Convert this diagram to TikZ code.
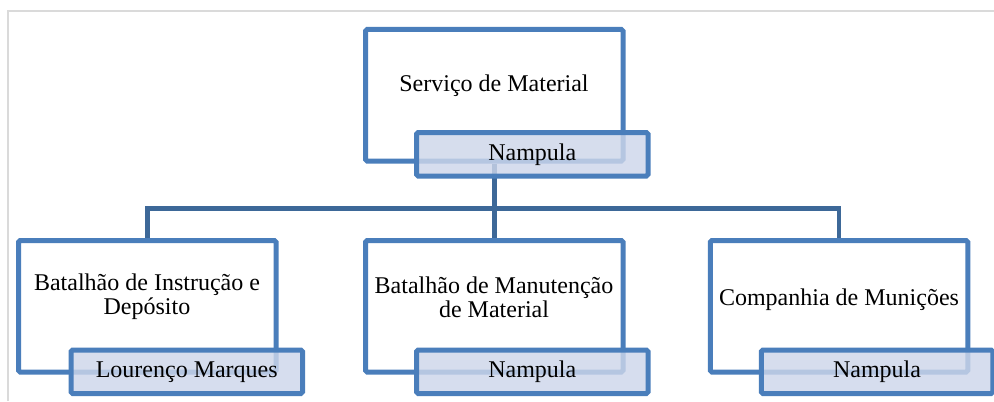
\documentclass[tikz,border=0pt]{standalone}
\usepackage{fontspec}
\setmainfont{Liberation Serif}
\definecolor{boxblue}{RGB}{74,126,187}
\definecolor{connblue}{RGB}{61,104,152}
\definecolor{labfill}{RGB}{205,214,234}
\definecolor{framegray}{RGB}{218,218,218}
\pgfdeclarelayer{background}
\pgfsetlayers{background,main}
\begin{document}
\begin{tikzpicture}[x=0.5pt,y=-0.5pt,
  mainbox/.style={draw=boxblue,line width=2.5pt,fill=white,rounded corners=0.8pt,
    minimum width=128.75pt,minimum height=65.75pt,inner sep=0pt},
  labbox/.style={draw=boxblue,line width=2.5pt,fill=labfill,fill opacity=0.82,text opacity=1,
    rounded corners=0.8pt,minimum width=115.75pt,minimum height=21.75pt,inner sep=0pt,
    font=\fontsize{12}{12.5}\selectfont},
  maintext/.style={align=center,inner sep=0pt,font=\fontsize{12}{12}\selectfont},
  conn/.style={draw=connblue,line width=2.3pt}]
\useasboundingbox (0,0) rectangle (994,401);
% frame
\draw[framegray,line width=0.75pt] (8,401) -- (8,11) -- (994,11);
% main boxes
\node[mainbox] (m0) at (494.25,95.25) {};
\node[mainbox] (m1) at (147.25,306.25) {};
\node[mainbox] (m2) at (494.25,306.25) {};
\node[mainbox] (m3) at (839,306.25) {};
% connectors behind the boxes
\coordinate (j) at (494.25,208.5);
\begin{pgfonlayer}{background}
\draw[conn] (m0.south) -- (j);
\draw[conn] (m1.north) |- (j) -| (m3.north);
\draw[conn] (j) -- (m2.north);
\end{pgfonlayer}
% texts
\node[maintext] (t0) at (494,86) {Serviço de Material};
\node[maintext] (t1) at (147,297) {Batalhão de Instrução e\\Depósito};
\node[maintext] (t2) at (494,297) {Batalhão de Manutenção\\de Material};
\node[maintext] (t3) at (839,300) {Companhia de Munições};
% labels
\node[labbox] (l0) at (532.25,154.25) {Nampula};
\node[labbox] (l1) at (186.75,371.75) {Lourenço Marques};
\node[labbox] (l2) at (532.25,371.75) {Nampula};
\node[labbox] (l3) at (877,371.75) {Nampula};
\end{tikzpicture}
\end{document}
